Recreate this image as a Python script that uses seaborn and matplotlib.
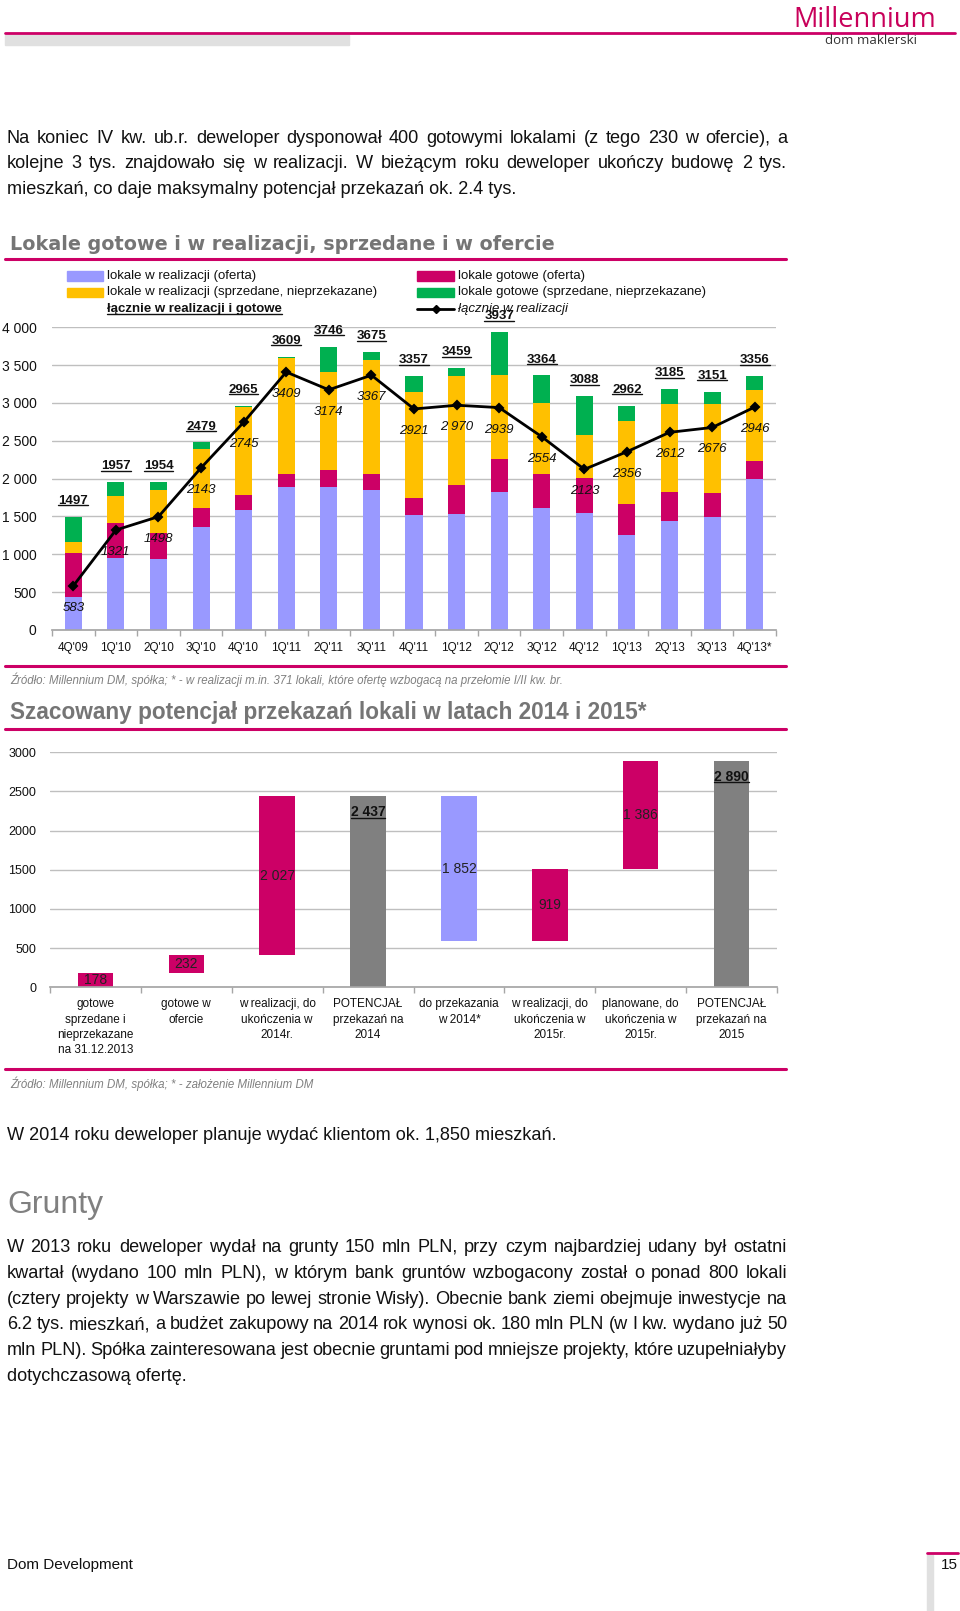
import numpy as np
import pandas as pd
import seaborn as sns
import matplotlib.pyplot as plt
from matplotlib.patches import Rectangle
from matplotlib.lines import Line2D
from matplotlib.ticker import FuncFormatter

# --- dane: lokale gotowe i w realizacji ---
quarters = ["4Q'09", "1Q'10", "2Q'10", "3Q'10", "4Q'10", "1Q'11", "2Q'11", "3Q'11", "4Q'11",
            "1Q'12", "2Q'12", "3Q'12", "4Q'12", "1Q'13", "2Q'13", "3Q'13", "4Q'13*"]
real_offer = [440, 956, 938, 1357, 1586, 1885, 1885, 1850, 1515, 1529, 1828, 1617, 1546, 1260, 1445, 1498, 2000]
ready_offer = [578, 454, 350, 251, 198, 181, 234, 207, 225, 387, 428, 445, 458, 405, 379, 308, 229]
real_sold = [143, 365, 560, 786, 1159, 1524, 1289, 1517, 1406, 1441, 1111, 937, 577, 1096, 1167, 1178, 946]
ready_sold = [336, 182, 106, 85, 22, 19, 338, 101, 211, 102, 570, 365, 507, 201, 194, 167, 181]

# --- dane: potencjal przekazan 2014/2015 ---
steps = ["gotowe\nsprzedane i\nnieprzekazane\nna 31.12.2013", "gotowe w\nofercie",
         "w realizacji, do\nukończenia w\n2014r.", "POTENCJAŁ\nprzekazań na\n2014",
         "do przekazania\nw 2014*", "w realizacji, do\nukończenia w\n2015r.",
         "planowane, do\nukończenia w\n2015r.", "POTENCJAŁ\nprzekazań na\n2015"]
step_values = [178, 232, 2027, 2437, 1852, 919, 1386, 2890]
step_kinds = ["plus", "plus", "plus", "total", "minus", "plus", "plus", "total"]

MAG = "#CC0066"
PURPLE = "#9999FF"
YEL = "#FFC000"
GRN = "#00B050"
GRAYBAR = "#808080"
TITLE = "#757575"
TXT = "#111111"
GRID = "#BFBFBF"
BODY = 13.1

sns.set_theme(style="white")
plt.rcParams['font.family'] = ['Liberation Sans', 'DejaVu Sans']

W, H = 960, 1611
fig = plt.figure(figsize=(W / 100, H / 100), dpi=100)


def fx(p):
    return p / W


def fy(p):
    return 1 - p / H


def ftext(x, y, s, **kw):
    kw.setdefault("va", "center")
    return fig.text(fx(x), fy(y), s, **kw)


def hline(x0, x1, y, color=MAG, lw=2.2):
    fig.add_artist(Line2D([fx(x0), fx(x1)], [fy(y), fy(y)], color=color, lw=lw,
                          transform=fig.transFigure))


def justified(lines, y0, step, x0=7, x1=787, size=BODY):
    # tekst wyjustowany jak w raporcie, ostatnia linia do lewej
    r = fig.canvas.get_renderer()
    for i, line in enumerate(lines):
        y = y0 + i * step + 6
        if i == len(lines) - 1:
            ftext(x0, y, line, size=size, color=TXT, va="baseline")
            continue
        words = line.split(" ")
        ts = [ftext(x0, y, w, size=size, color=TXT, va="baseline") for w in words]
        widths = [t.get_window_extent(r).width for t in ts]
        gap = max((x1 - x0 - sum(widths)) / (len(words) - 1), 2.5)
        x = x0
        for t, w in zip(ts, widths):
            t.set_x(fx(x))
            x += w + gap


underlined = []

# --- naglowek ---
ftext(865, 27, "Millennium", size=19.5, color="#C8005A", ha="center", va="baseline",
      family=["Open Sans", "Liberation Sans"])
ftext(871, 41, "dom maklerski", size=9.5, color="#333333", ha="center",
      family=["Open Sans", "Liberation Sans"])
hline(5, 955, 32.5, lw=2)
fig.add_artist(Rectangle((fx(5), fy(45)), fx(349) - fx(5), 10 / H, color="#E0E0E0",
                         transform=fig.transFigure))

justified(["Na koniec IV kw. ub.r. deweloper dysponował 400 gotowymi lokalami (z tego 230 w ofercie), a",
           "kolejne 3 tys. znajdowało się w realizacji. W bieżącym roku deweloper ukończy budowę 2 tys.",
           "mieszkań, co daje maksymalny potencjał przekazań ok. 2.4 tys."], 137, 25.5)

# --- wykres 1 ---
ftext(10, 244, "Lokale gotowe i w realizacji, sprzedane i w ofercie", size=13.8,
      weight="bold", color=TITLE, family="DejaVu Sans")
hline(5, 786, 259)

ax1 = fig.add_axes([fx(52), fy(630), fx(776) - fx(52), (630 - 327.3) / H])
df1 = pd.DataFrame({"q": quarters, "real_offer": real_offer, "ready_offer": ready_offer,
                    "real_sold": real_sold, "ready_sold": ready_sold})
df1["line"] = df1["real_offer"] + df1["real_sold"]
df1["total"] = df1[["real_offer", "ready_offer", "real_sold", "ready_sold"]].sum(axis=1)

bottom = np.zeros(len(df1))
for col, c in [("real_offer", PURPLE), ("ready_offer", MAG), ("real_sold", YEL), ("ready_sold", GRN)]:
    sns.barplot(data=df1, x="q", y=col, order=quarters, color=c, width=0.4, saturation=1,
                errorbar=None, bottom=bottom.copy(), linewidth=0, zorder=2, ax=ax1)
    bottom += df1[col].values

sns.pointplot(data=df1, x="q", y="line", order=quarters, color="black", markers="D",
              linestyles="-", errorbar=None, markersize=4.5, linewidth=2, zorder=5, ax=ax1)

ax1.set_ylim(0, 4000)
ax1.set_xlim(-0.5, len(quarters) - 0.5)
ax1.set_yticks(range(0, 4001, 500))
ax1.yaxis.set_major_formatter(FuncFormatter(lambda v, p: f"{int(v):,}".replace(",", " ")))
ax1.yaxis.grid(True, color=GRID, lw=1)
ax1.set_axisbelow(True)
ax1.set_xlabel("")
ax1.set_ylabel("")
for s in ["top", "right", "left"]:
    ax1.spines[s].set_visible(False)
ax1.spines["bottom"].set_color("#A6A6A6")
ax1.set_xticks(np.arange(-0.5, len(quarters)), minor=True)
ax1.tick_params(axis="x", which="major", length=0, pad=9, labelsize=8.5, labelcolor=TXT)
ax1.tick_params(axis="x", which="minor", bottom=True, length=4, color="#A6A6A6")
ax1.tick_params(axis="y", length=0, pad=11, labelsize=10, labelcolor=TXT)

line_labels = [str(v) for v in df1["line"]]
line_labels[9] = "2 970"
for i, row in df1.iterrows():
    t = ax1.text(i, row["total"] + 210, str(row["total"]), ha="center", va="center",
                 size=9.5, weight="bold", color=TXT)
    underlined.append(t)
    ax1.text(i, row["line"] - 290, line_labels[i], ha="center", va="center",
             size=9.5, style="italic", color=TXT, zorder=6)

# legenda
for k, (lab, c) in enumerate([("lokale w realizacji (oferta)", PURPLE),
                              ("lokale w realizacji (sprzedane, nieprzekazane)", YEL)]):
    y = 276 + k * 16.5
    fig.add_artist(Rectangle((fx(67), fy(y + 4.5)), 36 / W, 9 / H, color=c, transform=fig.transFigure))
    ftext(107, y, lab, size=9.5, color=TXT)
for k, (lab, c) in enumerate([("lokale gotowe (oferta)", MAG),
                              ("lokale gotowe (sprzedane, nieprzekazane)", GRN)]):
    y = 276 + k * 16.5
    fig.add_artist(Rectangle((fx(417), fy(y + 4.5)), 37 / W, 9 / H, color=c, transform=fig.transFigure))
    ftext(458, y, lab, size=9.5, color=TXT)
underlined.append(ftext(107, 309, "łącznie w realizacji i gotowe", size=9.5, weight="bold", color=TXT))
fig.add_artist(Line2D([fx(417), fx(454)], [fy(309), fy(309)], color="black", lw=2,
                      transform=fig.transFigure))
fig.add_artist(Line2D([fx(435.5)], [fy(309)], color="black", marker="D", ms=4.5,
                      transform=fig.transFigure))
ftext(458, 309, "łącznie w realizacji", size=9.5, style="italic", color=TXT)

hline(5, 786, 666)
ftext(10, 680, "Źródło: Millennium DM, spółka; * - w realizacji m.in. 371 lokali, które ofertę "
               "wzbogacą na przełomie I/II kw. br.", size=8.3, style="italic", color="#808080")

# --- wykres 2 ---
ftext(10, 713, "Szacowany potencjał przekazań lokali w latach 2014 i 2015*", size=16.3,
      weight="bold", color=TITLE)
hline(5, 786, 729)

bottoms, running = [], 0
for v, kind in zip(step_values, step_kinds):
    if kind == "total":
        bottoms.append(0)
        running = v
    elif kind == "minus":
        running -= v
        bottoms.append(running)
    else:
        bottoms.append(running)
        running += v
kind_colors = {"plus": MAG, "minus": PURPLE, "total": GRAYBAR}
df2 = pd.DataFrame({"step": steps, "value": step_values, "bottom": bottoms, "kind": step_kinds})

ax2 = fig.add_axes([fx(50), fy(987.3), fx(777) - fx(50), (987.3 - 752.3) / H])
sns.barplot(data=df2, x="step", y="value", order=steps, color=MAG, width=0.39, saturation=1,
            errorbar=None, bottom=df2["bottom"].values, linewidth=0, zorder=2, ax=ax2)
for p, kind in zip(ax2.patches, df2["kind"]):
    p.set_facecolor(kind_colors[kind])

ax2.set_ylim(0, 3000)
ax2.set_xlim(-0.5, len(steps) - 0.5)
ax2.set_yticks(range(0, 3001, 500))
ax2.yaxis.grid(True, color=GRID, lw=1)
ax2.set_axisbelow(True)
ax2.set_xlabel("")
ax2.set_ylabel("")
for s in ["top", "right", "left"]:
    ax2.spines[s].set_visible(False)
ax2.spines["bottom"].set_color("#A6A6A6")
ax2.set_xticks(np.arange(-0.5, len(steps)), minor=True)
ax2.set_xticks(range(len(steps)))
ax2.set_xticklabels(steps, linespacing=1.35, va="top")
ax2.tick_params(axis="x", which="major", length=0, pad=8, labelsize=8.5, labelcolor=TXT)
ax2.tick_params(axis="x", which="minor", bottom=True, length=4, color="#A6A6A6")
ax2.tick_params(axis="y", length=0, pad=10, labelsize=9, labelcolor=TXT)

for i, row in df2.iterrows():
    lab = f"{row['value']:,}".replace(",", " ")
    if row["kind"] == "total":
        t = ax2.text(i, row["value"] - 200, lab, ha="center", va="center", size=10,
                     weight="bold", color=TXT, zorder=4)
        underlined.append(t)
    else:
        ax2.text(i, row["bottom"] + row["value"] / 2, lab, ha="center", va="center",
                 size=10, color="#222222", zorder=4)

hline(5, 786, 1069)
ftext(10, 1084, "Źródło: Millennium DM, spółka; * - założenie Millennium DM", size=8.3,
      style="italic", color="#808080")

# --- tekst pod wykresami ---
ftext(7, 1140, "W 2014 roku deweloper planuje wydać klientom ok. 1,850 mieszkań.", size=BODY,
      color=TXT, va="baseline")
ftext(7, 1205, "Grunty", size=23, color="#808080")
justified(["W 2013 roku deweloper wydał na grunty 150 mln PLN, przy czym najbardziej udany był ostatni",
           "kwartał (wydano 100 mln PLN), w którym bank gruntów wzbogacony został o ponad 800 lokali",
           "(cztery projekty w Warszawie po lewej stronie Wisły). Obecnie bank ziemi obejmuje inwestycje na",
           "6.2 tys. mieszkań, a budżet zakupowy na 2014 rok wynosi ok. 180 mln PLN (w I kw. wydano już 50",
           "mln PLN). Spółka zainteresowana jest obecnie gruntami pod mniejsze projekty, które uzupełniałyby",
           "dotychczasową ofertę."], 1246, 25.8)

# --- stopka ---
ftext(7, 1565, "Dom Development", size=11, color=TXT)
ftext(941, 1565, "15", size=11, color=TXT)
hline(927, 958, 1553, lw=2)
fig.add_artist(Rectangle((fx(927), 0), 6 / W, (H - 1555) / H, color="#E0E0E0",
                         transform=fig.transFigure))

# podkreslenia
fig.canvas.draw()
r = fig.canvas.get_renderer()
for t in underlined:
    bb = t.get_window_extent(r)
    fig.add_artist(Line2D([bb.x0 / W, bb.x1 / W], [(bb.y0 + 1.5) / H] * 2, color=TXT, lw=1,
                          transform=fig.transFigure))

fig.savefig("out.png", dpi=100)
